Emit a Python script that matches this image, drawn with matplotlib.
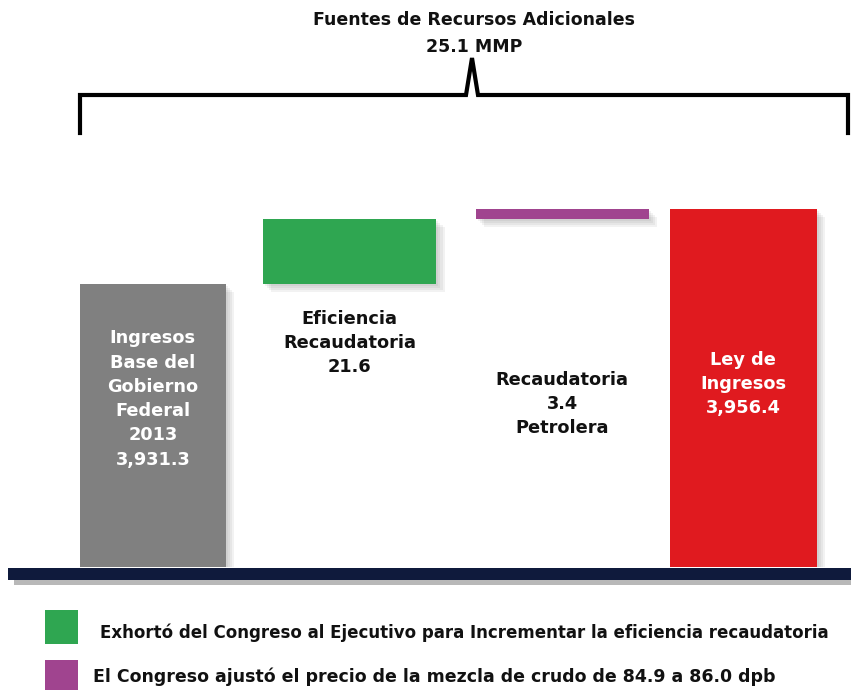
import matplotlib.pyplot as plt
import matplotlib.patheffects as pe
from matplotlib.patches import Rectangle
from matplotlib.lines import Line2D

# values (MMP)
categories = ["Ingresos\nBase del\nGobierno\nFederal\n2013\n3,931.3",
              "Eficiencia\nRecaudatoria\n21.6",
              "Recaudatoria\n3.4\nPetrolera",
              "Ley de\nIngresos\n3,956.4"]
base_2013 = 3931.3
increments = [21.6, 3.4]
ley_ingresos = 3956.4
extra_total = 25.1
legend_texts = ["Exhortó del Congreso al Ejecutivo para Incrementar la eficiencia recaudatoria",
                "El Congreso ajustó el precio de la mezcla de crudo de 84.9 a 86.0 dpb"]

colors = ["#808080", "#2fa651", "#a0448f", "#e01a1f"]
label_colors = ["white", "#111111", "#111111", "white"]
W, H = 851, 690


def fx(px):
    return px / W


def fy(py):
    return 1 - py / H


fig = plt.figure(figsize=(W / 100, H / 100), dpi=100)
fig.patch.set_facecolor("white")

# broken axis: bars start well above zero
floor = 3836.5
ax = fig.add_axes([0, fy(567), 1, (567 - 150) / H])
ax.set_ylim(floor, floor + 139.5)
ax.set_xlim(-0.777, 3.547)
ax.axis("off")

bottoms = [floor, base_2013, base_2013 + increments[0], floor]
heights = [base_2013 - floor, increments[0], increments[1], ley_ingresos - floor]
xpos = [0, 1, 2.08, 3]
widths = [0.74, 0.88, 0.88, 0.75]

# soft-ish drop shadow from a few stacked layers
shadow = [pe.SimplePatchShadow(offset=(d, -d), shadow_rgbFace="#777777", alpha=0.09)
          for d in (6, 4.5, 3, 1.5)] + [pe.Normal()]
bars = ax.bar(xpos, heights, bottom=bottoms, width=widths, color=colors, zorder=3)
for b in bars:
    b.set_path_effects(shadow)

# labels
label_y = [399, 343, 404, 384]
for x, lab, c, ly in zip(xpos, categories, label_colors, label_y):
    xd = fig.transFigure.inverted().transform(ax.transData.transform((x, floor)))[0]
    fig.text(xd, fy(ly), lab, ha="center", va="center", color=c,
             fontsize=12.8, fontweight="bold", linespacing=1.45)

# baseline band
fig.patches.append(Rectangle((fx(14), fy(585)), 1, 5 / H, transform=fig.transFigure,
                             facecolor="#9a9a9a", edgecolor="none", alpha=0.7))
fig.patches.append(Rectangle((fx(8), fy(580)), 1, 12 / H, transform=fig.transFigure,
                             facecolor="#0f1a3c", edgecolor="none"))

# bracket
bx = [80, 80, 466, 472, 478, 848, 848]
by = [133, 95, 95, 58, 95, 95, 133]
fig.lines.append(Line2D([fx(v) for v in bx], [fy(v) for v in by], transform=fig.transFigure,
                        color="black", lw=3, solid_joinstyle="miter"))
fig.text(fx(474), fy(20), "Fuentes de Recursos Adicionales", ha="center", va="center",
         fontsize=12.5, fontweight="bold", color="#111111")
fig.text(fx(474), fy(47), f"{extra_total} MMP", ha="center", va="center",
         fontsize=12.5, fontweight="bold", color="#111111")

# legend
for i, (txt, c) in enumerate(zip(legend_texts, colors[1:3])):
    top = [610, 660][i]
    fig.patches.append(Rectangle((fx(45), fy(top + 34)), 33 / W, 34 / H,
                                 transform=fig.transFigure, facecolor=c, edgecolor="none"))
    fig.text(fx([100, 93][i]), fy([633, 677][i]), txt, ha="left", va="center",
             fontsize=[12.0, 12.5][i], fontweight="bold", color="#111111")

fig.savefig("out.png", dpi=100)
